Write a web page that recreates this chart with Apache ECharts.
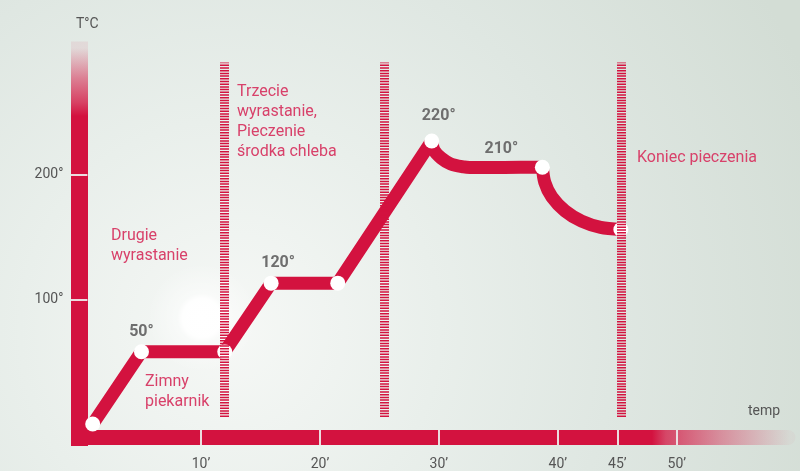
<!DOCTYPE html>
<html>
<head>
<meta charset="utf-8">
<script src="https://cdn.jsdelivr.net/npm/echarts@6.0.0/dist/echarts.min.js"></script>
<style>
  html, body { margin: 0; padding: 0; }
  #main { width: 800px; height: 471px; }
</style>
</head>
<body>
<div id="main"></div>
<script>
// minutes / temperature
const timeTicks = [10, 20, 30, 40, 45, 50];
const tempTicks = [100, 200];
const keyPoints = [[0.9, 0], [5, 58], [12, 58], [15.9, 113], [21.5, 113], [29.4, 227], [38.7, 206], [45.3, 156]];
const keyLabels = ['', '50°', '', '120°', '', '220°', '210°', ''];
// straight climb, then the two bends (after 220° and after 210°)
const climb = [[0.9, 0], [5, 58], [12, 58], [15.9, 113], [21.5, 113], [29.4, 227]];
const bendDown = [[29.4, 227], [29.6, 219.5], [30.2, 213.3], [31, 208.6], [32.1, 206.2], [32.6, 205.8], [35.5, 205.8], [38.7, 206]];
const cooling = [[38.7, 206], [38.9, 194], [39.5, 182], [40.6, 171], [42, 162.7], [43.6, 157.7], [45.3, 156]];
const phaseTimes = [12, 25.4, 45.3];
const phaseRange = [5.6, 290];

const RED = '#d3123f';
const PINK = '#d8416a';
const chart = echarts.init(document.getElementById('main'));

// label shifts relative to the white dots
const labelShift = [[0, 0], [0, -20], [0, 0], [7, -20], [0, 0], [7, -25], [-41, -18], [0, 0]];

const pathStyle = { color: RED, width: 13, cap: 'round', join: 'round' };

const option = {
  animation: false,
  grid: { left: 82, right: 12, top: 50, bottom: 32.5 },
  graphic: [
    {
      type: 'rect', z: -10, silent: true,
      shape: { x: 0, y: 0, width: 800, height: 471 },
      style: {
        fill: new echarts.graphic.RadialGradient(230, 330, 700, [
          { offset: 0, color: '#f6f8f6' },
          { offset: 0.3, color: '#e9efeb' },
          { offset: 0.55, color: '#dfe7e2' },
          { offset: 0.9, color: '#d3ddd5' }
        ], true)
      }
    },
    {
      type: 'circle', z: -9, silent: true,
      shape: { cx: 202, cy: 318, r: 55 },
      style: {
        fill: new echarts.graphic.RadialGradient(0.5, 0.5, 0.5, [
          { offset: 0, color: 'rgba(255,255,255,1)' },
          { offset: 0.35, color: 'rgba(255,255,255,0.95)' },
          { offset: 0.45, color: 'rgba(255,255,255,0.45)' },
          { offset: 1, color: 'rgba(255,255,255,0)' }
        ])
      }
    },
    { type: 'text', z: 10, left: 76, top: 17, style: { text: 'T°C', font: '14px Roboto', fill: '#555' } },
    { type: 'text', z: 10, left: 748, top: 404, style: { text: 'temp', font: '14px Roboto', fill: '#555' } },
    { type: 'text', z: 10, left: 111, top: 226, style: { text: 'Drugie\nwyrastanie', font: '16px Roboto', fill: PINK, lineHeight: 20 } },
    { type: 'text', z: 10, left: 145, top: 372, style: { text: 'Zimny\npiekarnik', font: '16px Roboto', fill: PINK, lineHeight: 20 } },
    { type: 'text', z: 10, left: 237, top: 82, style: { text: 'Trzecie\nwyrastanie,\nPieczenie\nśrodka chleba', font: '16px Roboto', fill: PINK, lineHeight: 20 } },
    { type: 'text', z: 10, left: 637, top: 150, style: { text: 'Koniec pieczenia', font: '16px Roboto', fill: PINK } }
  ],
  xAxis: [
    {
      type: 'value', min: 0, max: 59.35,
      axisLine: {
        show: true, onZero: false,
        lineStyle: {
          width: 15,
          color: new echarts.graphic.LinearGradient(652, 0, 790, 0, [
            { offset: 0, color: 'rgba(211,18,63,1)' },
            { offset: 0.1, color: 'rgba(211,18,63,0.75)' },
            { offset: 0.5, color: 'rgba(211,18,63,0.4)' },
            { offset: 1, color: 'rgba(211,18,63,0.03)' }
          ], true)
        }
      },
      axisTick: { show: false }, axisLabel: { show: false }, splitLine: { show: false }
    },
    {
      type: 'value', min: 0, max: 59.35, position: 'bottom', offset: 7.5,
      axisLine: { show: false, onZero: false },
      axisTick: { show: true, inside: true, length: 15, customValues: timeTicks, lineStyle: { color: 'rgba(236,232,232,0.95)', width: 2 } },
      axisLabel: { show: true, customValues: timeTicks, formatter: '{value}’', margin: 12, color: '#555', fontSize: 14, fontFamily: 'Roboto' },
      splitLine: { show: false }
    }
  ],
  yAxis: [
    {
      type: 'value', min: -10.8, max: 300, offset: 3,
      axisLine: {
        show: true, onZero: false,
        lineStyle: {
          width: 17, cap: 'square',
          color: new echarts.graphic.LinearGradient(0, 48, 0, 116, [
            { offset: 0, color: 'rgba(211,18,63,0.08)' },
            { offset: 0.45, color: 'rgba(211,18,63,0.5)' },
            { offset: 0.8, color: 'rgba(211,18,63,0.78)' },
            { offset: 1, color: 'rgba(211,18,63,1)' }
          ], true)
        }
      },
      axisTick: { show: false }, axisLabel: { show: false }, splitLine: { show: false }
    },
    {
      type: 'value', min: -10.8, max: 300, position: 'left', offset: 11.6,
      axisLine: { show: false, onZero: false },
      axisTick: { show: true, inside: true, length: 17, customValues: tempTicks, lineStyle: { color: 'rgba(236,232,232,0.95)', width: 2 } },
      axisLabel: { show: true, customValues: tempTicks, formatter: '{value}°', margin: 7, color: '#555', fontSize: 14, fontFamily: 'Roboto' },
      splitLine: { show: false }
    }
  ],
  series: [
    {
      type: 'line', data: [], z: 1, silent: true,
      markLine: {
        silent: true, symbol: 'none', label: { show: false },
        lineStyle: { color: RED, width: 9, type: [1.5, 1.2], opacity: 1 },
        data: phaseTimes.map(t => [{ coord: [t, phaseRange[0]] }, { coord: [t, phaseRange[1]] }])
      }
    },
    { type: 'line', data: climb, z: 3, silent: true, showSymbol: false, smooth: false, lineStyle: pathStyle },
    { type: 'line', data: bendDown, z: 3, silent: true, showSymbol: false, smooth: 0.3, lineStyle: pathStyle },
    { type: 'line', data: cooling, z: 3, silent: true, showSymbol: false, smooth: 0.3, lineStyle: pathStyle },
    {
      type: 'scatter', z: 4, silent: true,
      symbolSize: 15,
      itemStyle: { color: '#ffffff', opacity: 1 },
      data: keyPoints.map((p, i) => ({
        value: p,
        label: {
          show: keyLabels[i] !== '',
          formatter: keyLabels[i],
          position: 'inside',
          offset: labelShift[i],
          color: '#6e6e6e', fontSize: 16, fontWeight: 'bold', fontFamily: 'Roboto'
        }
      }))
    }
  ]
};

chart.setOption(option);
</script>
</body>
</html>
